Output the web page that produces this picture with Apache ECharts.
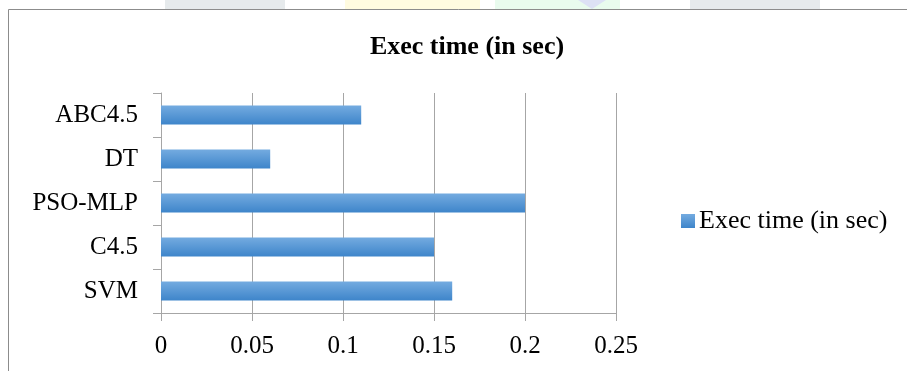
<!DOCTYPE html>
<html>
<head>
<meta charset="utf-8">
<script src="https://cdn.jsdelivr.net/npm/echarts@6/dist/echarts.min.js"></script>
<style>
html,body{margin:0;padding:0;background:#fff;}
#chart{width:907px;height:371px;}
</style>
</head>
<body>
<div id="chart"></div>
<script>
var categories = ['SVM', 'C4.5', 'PSO-MLP', 'DT', 'ABC4.5'];
var execTime = [0.16, 0.15, 0.2, 0.06, 0.11];
var xTicks = [0, 0.05, 0.1, 0.15, 0.2, 0.25];
var seriesName = 'Exec time (in sec)';

var serif = '"Liberation Serif", "DejaVu Serif", serif';
var chart = echarts.init(document.getElementById('chart'), null, {renderer: 'canvas'});
chart.setOption({
  backgroundColor: '#fff',
  animation: false,
  title: {
    text: seriesName,
    left: 467,
    top: 34,
    padding: 0,
    textAlign: 'center',
    textStyle: {fontFamily: serif, fontSize: 26, fontWeight: 'bold', color: '#000'}
  },
  legend: {
    data: [seriesName],
    left: 681,
    top: 208,
    padding: 0,
    icon: 'rect',
    itemWidth: 14,
    itemHeight: 14,
    itemGap: 10,
    textStyle: {fontFamily: serif, fontSize: 26, color: '#000', padding: [0, 0, 0, -1]}
  },
  grid: {left: 161, right: 291, top: 93, bottom: 58, containLabel: false},
  xAxis: {
    type: 'value',
    min: xTicks[0],
    max: xTicks[xTicks.length - 1],
    interval: 0.05,
    axisLine: {show: true, lineStyle: {color: '#a6a6a6', width: 1}},
    axisTick: {show: true, length: 8, lineStyle: {color: '#a6a6a6'}},
    splitLine: {show: true, lineStyle: {color: '#a6a6a6', width: 1}},
    axisLabel: {fontFamily: serif, fontSize: 25, color: '#000', margin: 21,
      formatter: function (v) { return String(+v.toFixed(2)); }}
  },
  yAxis: {
    type: 'category',
    data: categories,
    axisLine: {show: true, lineStyle: {color: '#a6a6a6', width: 1}},
    axisTick: {show: true, length: 8, lineStyle: {color: '#a6a6a6'}},
    axisLabel: {fontFamily: serif, fontSize: 25, color: '#000', margin: 23}
  },
  series: [{
    name: seriesName,
    type: 'bar',
    data: execTime,
    barWidth: 19,
    itemStyle: {
      color: new echarts.graphic.LinearGradient(0, 0, 0, 1, [
        {offset: 0, color: '#74abe0'},
        {offset: 1, color: '#3e85ca'}
      ])
    }
  }],
  graphic: [
    {type: 'rect', shape: {x: 165, y: 0, width: 120, height: 9}, style: {fill: '#e6eaec'}, silent: true},
    {type: 'rect', shape: {x: 345, y: 0, width: 135, height: 9}, style: {fill: '#fffbe0'}, silent: true},
    {type: 'rect', shape: {x: 495, y: 0, width: 125, height: 9}, style: {fill: '#e9fbee'}, silent: true},
    {type: 'polygon', shape: {points: [[578, 0], [606, 0], [592, 9]]}, style: {fill: '#dde1f5'}, silent: true},
    {type: 'rect', shape: {x: 690, y: 0, width: 130, height: 9}, style: {fill: '#e6eaec'}, silent: true},
    {type: 'rect', shape: {x: 8.5, y: 9.5, width: 905, height: 370}, style: {fill: null, stroke: '#8c8c8c', lineWidth: 1}, silent: true}
  ]
});
</script>
</body>
</html>
